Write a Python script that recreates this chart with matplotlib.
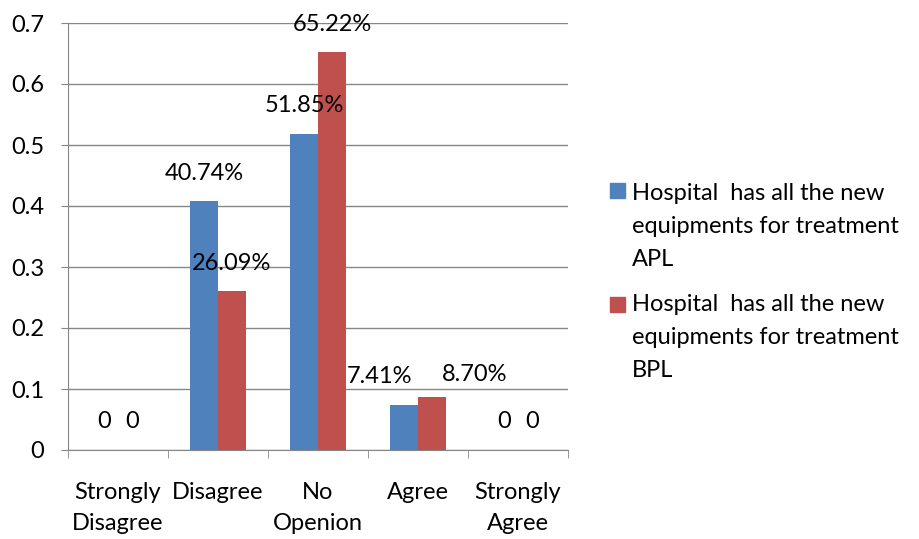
import numpy as np
import matplotlib.pyplot as plt
from matplotlib.patches import Rectangle

plt.rcParams['font.family'] = ['Lato', 'DejaVu Sans']

categories = ["Strongly\nDisagree", "Disagree", "No\nOpenion", "Agree", "Strongly\nAgree"]
apl = [0, 0.4074, 0.5185, 0.0741, 0]
bpl = [0, 0.2609, 0.6522, 0.0870, 0]
series_names = ["Hospital  has all the new\nequipments for treatment\nAPL",
                "Hospital  has all the new\nequipments for treatment\nBPL"]
colors = ["#4F81BD", "#C0504D"]
yticks = [0, 0.1, 0.2, 0.3, 0.4, 0.5, 0.6, 0.7]

# label offsets in pixels (the two Agree labels were moved by hand in the original)
apl_off = [(0, 28), (0, 28), (0, 28), (-24, 28), (0, 28)]
bpl_off = [(0, 28), (0, 27), (0, 28), (43, 22), (0, 28)]

def lab(v):
    return "0" if v == 0 else "%.2f%%" % (v * 100)

fig = plt.figure(figsize=(9.2, 5.39), dpi=100)
ax = fig.add_axes([68/920, 1-450/539, 500/920, 427/539])

x = np.arange(len(categories))
w = 0.28
b1 = ax.bar(x - w/2, apl, w, color=colors[0], zorder=3)
b2 = ax.bar(x + w/2, bpl, w, color=colors[1], zorder=3)

for rects, vals, offs in [(b1, apl, apl_off), (b2, bpl, bpl_off)]:
    for r, v, o in zip(rects, vals, offs):
        ax.annotate(lab(v), (r.get_x() + r.get_width()/2, v),
                    xytext=(o[0]*0.72, o[1]*0.72), textcoords="offset points",
                    ha="center", va="center", fontsize=17, zorder=4)

ax.set_xlim(-0.5, 4.5)
ax.set_ylim(0, 0.7)
ax.set_yticks(yticks)
ax.set_yticklabels([("%g" % t) for t in yticks])
ax.yaxis.grid(True, color="#868686", linewidth=1, zorder=0)
ax.set_xticks(x)
ax.set_xticklabels(categories, linespacing=1.62)
ax.set_xticks(np.arange(-0.5, 5, 1), minor=True)
ax.tick_params(axis="x", which="major", length=0, pad=23, labelsize=17)
ax.tick_params(axis="x", which="minor", length=6, color="#868686", direction="out")
ax.tick_params(axis="y", length=5, color="#868686", pad=12, labelsize=17)
for s in ["top", "right"]:
    ax.spines[s].set_visible(False)
for s in ["left", "bottom"]:
    ax.spines[s].set_color("#868686")

# legend drawn by hand so the square sits beside the first line
for i, (name, c) in enumerate(zip(series_names, colors)):
    ytop = 183 + i * 114
    fig.patches.append(Rectangle((610/920, 1-(ytop+15)/539), 15/920, 15/539,
                                 transform=fig.transFigure, color=c))
    fig.text(632/920, 1-(ytop - 3*i)/539, name, fontsize=17, va="top", ha="left",
             linespacing=1.72)

fig.savefig("out.png", dpi=100)
